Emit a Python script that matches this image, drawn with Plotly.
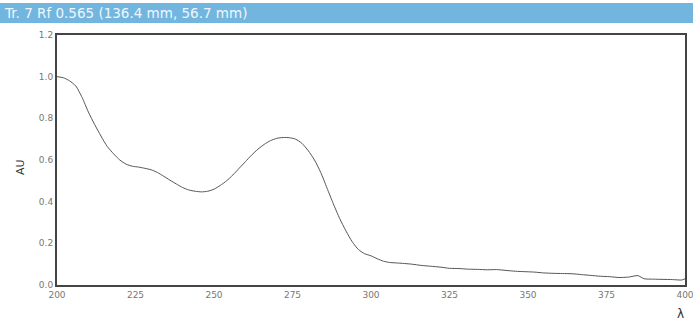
import plotly.graph_objects as go

wavelength = [200, 202, 204, 206, 208, 210, 212, 214, 216, 218, 220, 222, 224, 226, 228, 230, 232, 234,
              236, 238, 240, 242, 244, 246, 248, 250, 252, 254, 256, 258, 260, 262, 264, 266, 268, 270,
              272, 274, 276, 278, 280, 282, 284, 286, 288, 290, 292, 294, 296, 298, 300, 302, 304, 306,
              308, 310, 313, 316, 319, 322, 325, 328, 331, 334, 337, 340, 343, 346, 349, 352, 355, 358,
              361, 364, 367, 370, 373, 376, 379, 382, 385, 387, 390, 393, 396, 399, 400]
absorbance = [1.000, 0.995, 0.980, 0.955, 0.900, 0.830, 0.770, 0.715, 0.665, 0.630, 0.600, 0.580, 0.570, 0.566, 0.560, 0.553, 0.540, 0.522,
              0.503, 0.485, 0.468, 0.456, 0.450, 0.447, 0.450, 0.460, 0.478, 0.500, 0.528, 0.560, 0.592, 0.624, 0.652, 0.675, 0.693, 0.704,
              0.708, 0.707, 0.700, 0.680, 0.645, 0.600, 0.540, 0.465, 0.390, 0.320, 0.260, 0.208, 0.170, 0.150, 0.140, 0.126, 0.114, 0.108,
              0.106, 0.104, 0.100, 0.094, 0.090, 0.086, 0.080, 0.079, 0.076, 0.075, 0.073, 0.074, 0.070, 0.066, 0.064, 0.062, 0.058, 0.056,
              0.055, 0.054, 0.050, 0.046, 0.042, 0.040, 0.036, 0.038, 0.045, 0.030, 0.028, 0.027, 0.026, 0.024, 0.030]

title_text = "Tr. 7 Rf 0.565 (136.4 mm, 56.7 mm)"
x_ticks = [200, 225, 250, 275, 300, 325, 350, 375, 400]
y_ticks = [0.0, 0.2, 0.4, 0.6, 0.8, 1.0, 1.2]

fig = go.Figure()
fig.add_trace(go.Scatter(x=wavelength, y=absorbance, mode="lines",
                         line=dict(color="#555555", width=1, shape="spline", smoothing=0.6),
                         hoverinfo="skip", showlegend=False))

font = "DejaVu Sans, Verdana, sans-serif"
fig.update_layout(
    width=693, height=327,
    margin=dict(l=57, r=8, t=35, b=42),
    paper_bgcolor="white", plot_bgcolor="white",
    xaxis=dict(range=[200, 400], tickvals=x_ticks, ticktext=[str(v) for v in x_ticks],
               automargin=False, ticklabeloverflow="allow",
               showgrid=False, zeroline=False, showline=True, linecolor="#444444", linewidth=2,
               mirror=True, ticks="", tickfont=dict(family=font, size=9, color="#777777")),
    yaxis=dict(range=[0, 1.2], tickvals=y_ticks, ticktext=[f"{v:.1f}" for v in y_ticks],
               automargin=False, ticklabeloverflow="allow",
               showgrid=False, zeroline=False, showline=True, linecolor="#444444", linewidth=2,
               mirror=True, ticks="", tickfont=dict(family=font, size=9, color="#777777")),
    shapes=[dict(type="rect", xref="paper", yref="paper", x0=-0.1, x1=1.02,
                 y0=1.048, y1=1.128, fillcolor="#72b6e0", line=dict(width=0), layer="below")],
    annotations=[
        dict(text=title_text, xref="paper", yref="paper", x=-0.088, y=1.088, xanchor="left",
             yanchor="middle", showarrow=False, font=dict(family=font, size=13.5, color="#eef6fc")),
        dict(text="AU", xref="paper", yref="paper", x=-0.058, y=0.47, textangle=-90,
             showarrow=False, xanchor="center", yanchor="middle",
             font=dict(family=font, size=11, color="#333333")),
        dict(text="λ", xref="paper", yref="paper", x=0.993, y=-0.116, showarrow=False,
             xanchor="center", yanchor="middle", font=dict(family=font, size=12, color="#333333")),
    ],
)

fig.write_html("out.html")
